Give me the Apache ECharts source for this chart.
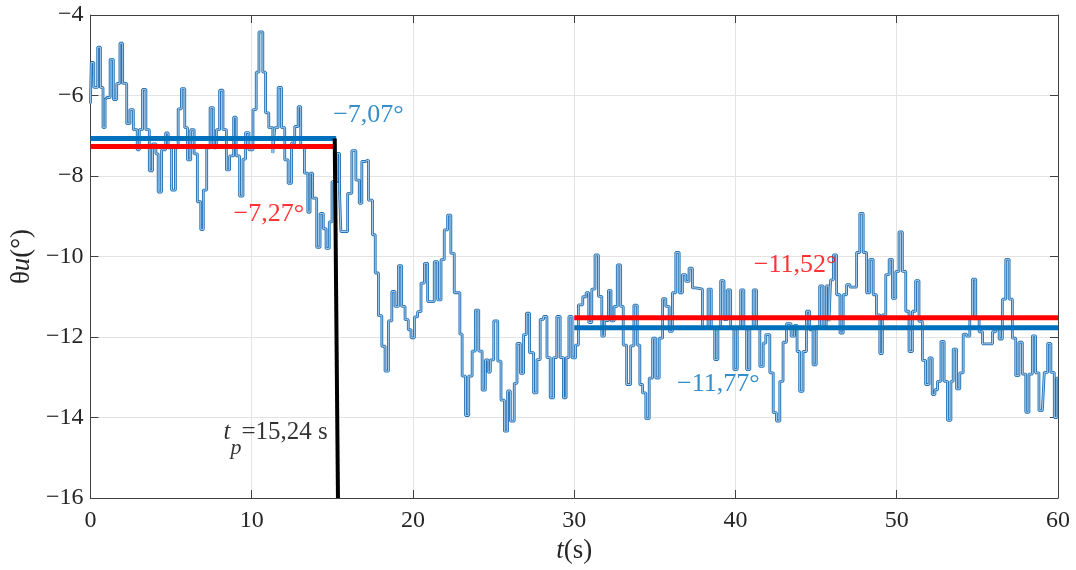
<!DOCTYPE html>
<html>
<head>
<meta charset="utf-8">
<script src="https://cdn.jsdelivr.net/npm/echarts@6/dist/echarts.min.js"></script>
<style>
html,body{margin:0;padding:0;background:#fff;}
#chart{width:1076px;height:570px;}
</style>
</head>
<body>
<div id="chart"></div>
<script>
// ---- data ----
const xTicks = [0, 10, 20, 30, 40, 50, 60];
const yTicks = [-16, -14, -12, -10, -8, -6, -4];

// step signal: breakpoints (s) and held values (deg)
const stepTimes = [
 0.00,0.05,0.21,0.45,0.62,0.78,0.91,1.03,1.22,1.42,1.63,1.83,2.00,2.25,2.45,2.66,2.90,3.03,3.23,3.44,
 3.65,3.85,4.06,4.20,4.41,4.66,4.82,5.03,5.27,5.44,5.64,5.85,6.02,6.22,6.43,6.63,6.84,7.00,7.21,7.42,
 7.62,7.81,8.01,8.22,8.43,8.63,8.88,9.04,9.25,9.46,9.62,9.83,10.08,10.28,10.45,10.69,10.86,11.06,11.31,11.43,
 11.64,11.85,12.05,12.26,12.47,12.67,12.88,13.04,13.27,13.48,13.62,13.78,14.03,14.24,14.44,14.61,14.81,14.98,15.30,15.45,
 15.53,15.95,16.21,16.46,16.67,16.83,17.04,17.24,17.49,17.66,17.86,18.07,18.27,18.48,18.69,18.89,19.10,19.30,19.51,19.71,
 19.88,20.09,20.29,20.50,20.71,20.91,21.32,21.53,21.74,21.94,22.15,22.35,22.56,22.91,23.05,23.26,23.46,23.67,23.87,24.08,
 24.29,24.49,24.66,24.80,25.01,25.26,25.46,25.67,25.87,26.04,26.28,26.45,26.66,26.86,27.03,27.23,27.48,27.69,27.89,28.10,
 28.31,28.51,28.72,28.92,29.13,29.33,29.50,29.67,29.87,30.08,30.26,30.53,30.74,30.90,31.09,31.29,31.50,31.71,31.87,32.12,
 32.28,32.47,32.67,32.88,33.04,33.25,33.50,33.70,33.91,34.07,34.24,34.44,34.65,34.86,35.06,35.27,35.48,35.68,35.89,36.09,
 36.30,36.51,36.71,36.92,37.12,37.33,37.54,37.95,38.30,38.50,38.71,38.91,39.08,39.29,39.49,39.70,39.90,40.11,40.32,40.52,
 40.69,40.89,41.10,41.31,41.51,41.72,41.88,42.13,42.34,42.54,42.75,42.95,43.16,43.45,43.65,43.82,43.98,44.19,44.40,44.60,
 44.81,45.01,45.22,45.43,45.63,45.80,45.90,46.07,46.27,46.48,46.68,46.89,47.10,47.51,47.71,47.92,48.13,48.33,48.54,48.74,
 48.95,49.11,49.32,49.53,49.73,49.94,50.14,50.35,50.56,50.76,50.97,51.17,51.38,51.59,51.79,52.00,52.20,52.37,52.53,52.74,
 52.94,53.15,53.36,53.50,53.71,53.91,54.12,54.33,54.53,54.70,54.90,55.11,55.32,55.94,56.14,56.35,56.55,56.76,56.97,57.17,
 57.38,57.58,57.79,58.00,58.20,58.41,58.61,58.82,59.03,59.15,59.36,59.56,59.77,59.93,60.00
];
const stepValues = [
 -6.20,-5.18,-5.80,-4.80,-5.80,-6.80,-6.10,-6.05,-5.10,-6.10,-5.70,-4.70,-5.70,-6.70,-6.35,-6.85,-7.35,-6.85,-5.85,-6.85,
 -7.87,-7.20,-7.45,-8.40,-7.35,-6.93,-7.30,-8.35,-7.30,-6.33,-5.83,-6.80,-7.60,-6.85,-7.45,-8.64,-9.33,-8.35,-7.30,-6.30,
 -7.30,-6.85,-5.87,-6.85,-7.85,-7.50,-6.54,-7.50,-8.50,-7.58,-6.92,-7.35,-6.35,-5.42,-4.42,-5.42,-6.43,-6.80,-7.43,-6.80,
 -5.80,-6.80,-7.60,-8.18,-7.18,-6.77,-6.28,-7.27,-7.93,-8.90,-7.93,-8.55,-9.77,-8.93,-9.31,-9.80,-9.14,-8.14,-7.44,-8.43,
 -9.38,-8.43,-7.37,-8.10,-8.68,-7.64,-7.60,-8.60,-9.46,-10.41,-11.47,-12.23,-12.85,-11.60,-10.87,-11.24,-10.23,-11.24,-11.57,-11.82,
 -12.02,-11.50,-11.37,-10.66,-10.17,-11.12,-10.13,-11.08,-10.08,-9.34,-8.97,-9.92,-10.90,-11.93,-12.97,-13.95,-12.97,-12.35,-11.33,-12.35,
 -13.32,-12.57,-12.87,-12.57,-11.60,-12.60,-13.57,-14.34,-13.34,-14.09,-13.15,-12.16,-12.90,-11.94,-11.41,-12.39,-13.39,-12.56,-11.56,-11.49,
 -12.51,-13.51,-12.51,-11.49,-12.51,-13.51,-12.51,-11.49,-12.52,-12.20,-11.20,-11.00,-10.90,-11.64,-10.81,-9.96,-10.99,-11.98,-11.59,-10.84,
 -11.60,-11.24,-10.21,-11.24,-12.20,-13.18,-12.22,-11.21,-12.20,-13.18,-13.39,-14.03,-13.02,-12.03,-13.02,-12.03,-11.05,-11.24,-11.86,-10.90,
 -9.90,-10.90,-10.45,-10.62,-10.29,-10.78,-10.81,-11.78,-10.81,-11.78,-12.56,-11.78,-10.60,-11.57,-10.83,-11.78,-12.81,-11.78,-10.83,-11.78,
 -12.81,-11.78,-10.83,-11.78,-12.73,-12.15,-11.94,-12.89,-13.88,-14.09,-13.10,-12.13,-11.67,-11.98,-11.71,-12.36,-13.35,-12.36,-11.36,-11.82,
 -12.69,-11.74,-10.73,-11.74,-10.73,-11.61,-10.58,-9.96,-10.95,-11.90,-10.95,-10.70,-10.76,-9.90,-8.93,-9.90,-10.90,-10.07,-10.95,-11.45,
 -12.41,-11.45,-10.45,-10.07,-11.04,-10.37,-9.39,-10.37,-11.36,-12.36,-11.36,-10.60,-11.61,-12.58,-13.18,-12.52,-13.43,-13.31,-13.10,-12.11,
 -13.10,-14.07,-13.10,-12.30,-13.29,-12.89,-11.93,-11.98,-11.51,-10.56,-11.51,-11.87,-12.17,-11.87,-11.80,-12.05,-11.06,-10.07,-11.06,-12.03,
 -12.96,-12.13,-12.92,-13.87,-12.92,-11.97,-12.89,-13.83,-13.87,-12.88,-12.16,-12.88,-14.00,-13.02,-13.02
];

// mean levels
const meanBeforeBlue = -7.07, meanBeforeRed = -7.27;
const meanAfterRed = -11.52, meanAfterBlue = -11.77;
const beforeRange = [0, 15.24];
const afterRange = [30, 60];
const tp = 15.24;
const tpLine = [[15.15, -7.07], [15.35, -16]];

// annotation anchors [t, value, text, colour]
const annotations = [
  [17.24, -6.50, '−7,07°', '#0072BD'],
  [11.06, -8.94, '−7,27°', '#FF0000'],
  [43.70, -10.21, '−11,52°', '#FF0000'],
  [38.94, -13.17, '−11,77°', '#0072BD']
];
const tpLabelPos = [8.25, -14.55];

// ---- chart ----
const stepData = stepTimes.map((t, i) => [t, stepValues[i]]);
const serif = "'Liberation Serif', 'Times New Roman', serif";
const minus = v => String(v).replace('-', '−');
const frameColor = '#404040';

const chart = echarts.init(document.getElementById('chart'));
const axisCommon = {
  axisLine: { show: true, onZero: false, lineStyle: { color: frameColor, width: 1 } },
  axisTick: { show: true, inside: true, length: 8, lineStyle: { color: frameColor } }
};

const annSeries = annotations.map(a => ({
  type: 'scatter', symbolSize: 0, z: 6, silent: true,
  data: [[a[0], a[1]]],
  label: { show: true, position: 'inside', formatter: a[2], color: a[3],
           fontFamily: serif, fontSize: 26 }
}));

chart.setOption({
  animation: false,
  backgroundColor: '#fff',
  grid: { left: 87, right: 18, top: 15, bottom: 72, containLabel: false },
  xAxis: [
    Object.assign({
      type: 'value', min: xTicks[0], max: xTicks[xTicks.length - 1], interval: 10,
      position: 'bottom',
      axisLabel: { color: '#262626', fontFamily: serif, fontSize: 24, margin: 11 },
      splitLine: { show: true, lineStyle: { color: '#e3e3e3', width: 1 } },
      name: '{i|t}{n|(s)}', nameLocation: 'middle', nameGap: 38,
      nameTextStyle: { rich: {
        i: { fontFamily: serif, fontSize: 27, fontStyle: 'italic', color: '#262626' },
        n: { fontFamily: serif, fontSize: 27, color: '#262626' } } }
    }, axisCommon),
    Object.assign({
      type: 'value', min: 0, max: 60, interval: 10, position: 'top',
      axisLabel: { show: false }, splitLine: { show: false }
    }, axisCommon)
  ],
  yAxis: [
    Object.assign({
      type: 'value', min: yTicks[0], max: yTicks[yTicks.length - 1], interval: 2,
      position: 'left',
      axisLabel: { color: '#262626', fontFamily: serif, fontSize: 24, margin: 7, formatter: minus },
      splitLine: { show: true, lineStyle: { color: '#e3e3e3', width: 1 } },
      name: '{n|θ}{i|u}{n|(°)}', nameLocation: 'middle', nameGap: 46, nameRotate: 90,
      nameTextStyle: { rich: {
        i: { fontFamily: serif, fontSize: 27, fontStyle: 'italic', color: '#262626' },
        n: { fontFamily: serif, fontSize: 27, color: '#262626' } } }
    }, axisCommon),
    Object.assign({
      type: 'value', min: -16, max: -4, interval: 2, position: 'right',
      axisLabel: { show: false }, splitLine: { show: false }
    }, axisCommon)
  ],
  series: [
    { type: 'line', step: 'end', data: stepData, showSymbol: false, z: 2,
      lineStyle: { color: '#2271b5', width: 2.8 } },
    { type: 'line', step: 'end', data: stepData, showSymbol: false, z: 3,
      lineStyle: { color: '#b7d6ef', width: 0.9 } },
    { type: 'line', data: [[beforeRange[0], meanBeforeRed], [beforeRange[1], meanBeforeRed]],
      showSymbol: false, z: 4, lineStyle: { color: '#FF0000', width: 5 } },
    { type: 'line', data: [[beforeRange[0], meanBeforeBlue], [beforeRange[1], meanBeforeBlue]],
      showSymbol: false, z: 4, lineStyle: { color: '#0072BD', width: 5 } },
    { type: 'line', data: [[afterRange[0], meanAfterRed], [afterRange[1], meanAfterRed]],
      showSymbol: false, z: 4, lineStyle: { color: '#FF0000', width: 5 } },
    { type: 'line', data: [[afterRange[0], meanAfterBlue], [afterRange[1], meanAfterBlue]],
      showSymbol: false, z: 4, lineStyle: { color: '#0072BD', width: 5 } },
    { type: 'line', data: tpLine, showSymbol: false, z: 5,
      lineStyle: { color: '#000000', width: 4 } },
    { type: 'scatter', symbolSize: 0, z: 6, silent: true,
      data: [tpLabelPos],
      label: { show: true, position: 'right', distance: 0,
        formatter: '{i|t}{s|p}{n|=' + String(tp).replace('.', ',') + ' s}',
        rich: {
          i: { fontFamily: serif, fontSize: 25, fontStyle: 'italic', color: '#000', verticalAlign: 'top' },
          s: { fontFamily: serif, fontSize: 22, fontStyle: 'italic', color: '#000', verticalAlign: 'top', padding: [17, 0, 0, 0] },
          n: { fontFamily: serif, fontSize: 25, color: '#000', verticalAlign: 'top' }
        } } }
  ].concat(annSeries)
});
</script>
</body>
</html>
